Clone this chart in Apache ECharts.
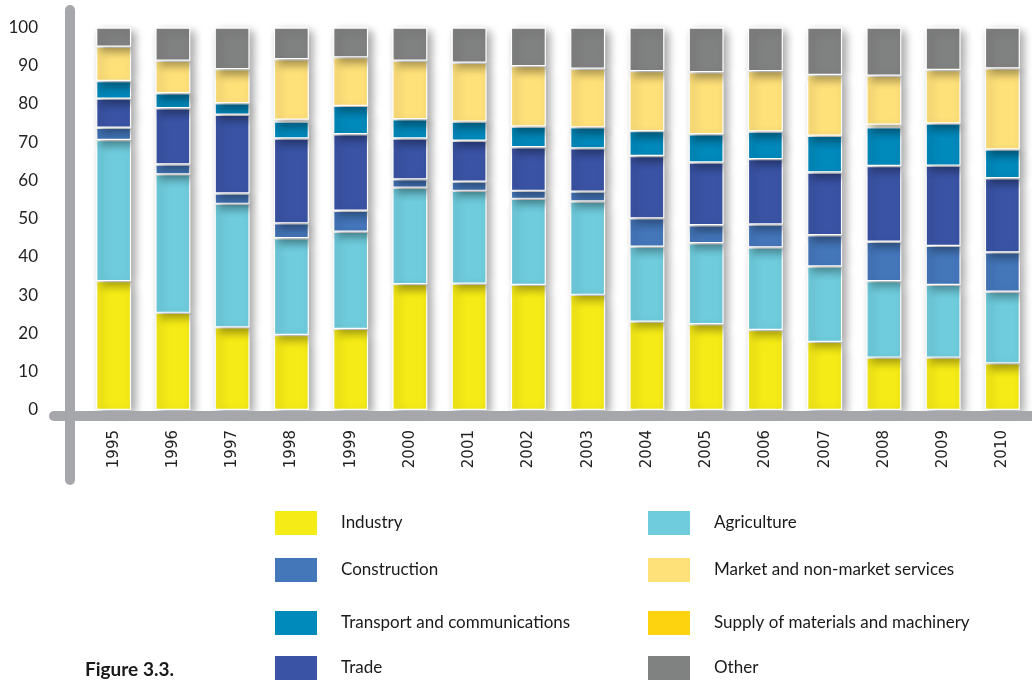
<!DOCTYPE html>
<html>
<head>
<meta charset="utf-8">
<script src="https://cdn.jsdelivr.net/npm/echarts@6/dist/echarts.min.js"></script>
<style>
  html, body { margin: 0; padding: 0; background: #fff; }
  #chart { width: 1032px; height: 680px; }
</style>
</head>
<body>
<div id="chart"></div>
<script>
// categories
var years = ['1995','1996','1997','1998','1999','2000','2001','2002','2003','2004','2005','2006','2007','2008','2009','2010'];

// shares, % (stacked bottom to top)
var industry     = [33.7, 25.4, 21.6, 19.6, 21.2, 32.9, 33.0, 32.7, 30.1, 23.1, 22.4, 20.9, 17.8, 13.7, 13.7, 12.2];
var agriculture  = [36.9, 36.2, 32.3, 25.3, 25.4, 25.2, 24.3, 22.5, 24.4, 19.6, 21.2, 21.6, 19.7, 20.0, 19.0, 18.7];
var construction = [3.2, 2.6, 2.7, 3.9, 5.5, 2.2, 2.4, 2.1, 2.6, 7.4, 4.7, 6.0, 8.2, 10.3, 10.2, 10.3];
var trade        = [7.6, 14.7, 20.6, 22.2, 20.0, 10.7, 10.7, 11.4, 11.3, 16.3, 16.4, 17.1, 16.4, 19.8, 21.0, 19.4];
var transport    = [4.6, 3.9, 3.0, 4.4, 7.4, 5.0, 5.0, 5.4, 5.5, 6.5, 7.4, 7.2, 9.6, 10.1, 11.0, 7.5];
var supply       = [0, 0, 0, 0.5, 0, 0, 0, 0, 0, 0, 0, 0, 0, 0.7, 0, 0];
var services     = [9.0, 8.5, 8.9, 15.8, 12.7, 15.3, 15.4, 15.8, 15.3, 15.7, 16.2, 15.8, 15.9, 12.8, 14.0, 21.2];
var other        = [5.0, 8.7, 10.9, 8.3, 7.8, 8.7, 9.2, 10.1, 10.8, 11.4, 11.7, 11.4, 12.4, 12.6, 11.1, 10.7];

var yTicks = [0, 10, 20, 30, 40, 50, 60, 70, 80, 90, 100];

// legend layout: two columns, four rows
var legendLeftCol  = ['Industry', 'Construction', 'Transport and communications', 'Trade'];
var legendRightCol = ['Agriculture', 'Market and non-market services', 'Supply of materials and machinery', 'Other'];

var chart = echarts.init(document.getElementById('chart'));

function bar(name, data, color) {
  return {
    name: name,
    type: 'bar',
    stack: 'total',
    barWidth: 35,
    data: data,
    itemStyle: {
      color: color,
      borderColor: '#fff',
      borderWidth: 1.2,
      shadowColor: 'rgba(0,0,0,0.38)',
      shadowBlur: 9,
      shadowOffsetX: 4,
      shadowOffsetY: 4
    }
  };
}

var rowTops = [509, 556, 609, 654];
var legends = [];
[[273, legendLeftCol], [646, legendRightCol]].forEach(function (col) {
  col[1].forEach(function (name, i) {
    legends.push({
      left: col[0],
      top: rowTops[i],
      padding: 0,
      itemWidth: 44,
      itemHeight: 26,
      icon: 'rect',
      textStyle: { fontFamily: 'Lato', fontSize: 17, color: '#1a1a1a', padding: [0, 0, 0, 18] },
      data: [name]
    });
  });
});

chart.setOption({
  animation: false,
  textStyle: { fontFamily: 'Lato' },
  title: {
    text: 'Figure 3.3.',
    left: 80,
    top: 655,
    textStyle: { fontFamily: 'Lato', fontWeight: 'bold', fontSize: 19, color: '#1a1a1a' }
  },
  grid: { left: 84, right: 0, top: 27.5, bottom: 270 },
  xAxis: {
    type: 'category',
    data: years,
    axisLine: { show: false },
    axisTick: { show: false },
    axisLabel: {
      rotate: 90,
      margin: 20,
      fontFamily: 'DejaVu Sans',
      fontSize: 15,
      color: '#222'
    }
  },
  yAxis: {
    type: 'value',
    min: yTicks[0],
    max: yTicks[yTicks.length - 1],
    interval: 10,
    splitLine: { show: false },
    axisLine: { show: false },
    axisTick: { show: false },
    axisLabel: {
      margin: 46,
      fontFamily: 'Lato',
      fontSize: 17,
      color: '#222'
    }
  },
  legend: legends,
  graphic: [
    {
      type: 'line',
      shape: { x1: 70, y1: 10, x2: 70, y2: 480 },
      style: { stroke: '#a6a7aa', lineWidth: 10, lineCap: 'round' },
      z: 10
    },
    {
      type: 'line',
      shape: { x1: 54, y1: 416, x2: 1040, y2: 416 },
      style: { stroke: '#a6a7aa', lineWidth: 10, lineCap: 'round' },
      z: 10
    }
  ],
  series: [
    bar('Industry', industry, '#f5eb17'),
    bar('Agriculture', agriculture, '#6fccdd'),
    bar('Construction', construction, '#4476ba'),
    bar('Trade', trade, '#3a53a4'),
    bar('Transport and communications', transport, '#0089bb'),
    bar('Supply of materials and machinery', supply, '#fdd20e'),
    bar('Market and non-market services', services, '#ffe17a'),
    bar('Other', other, '#808281')
  ]
});
</script>
</body>
</html>
